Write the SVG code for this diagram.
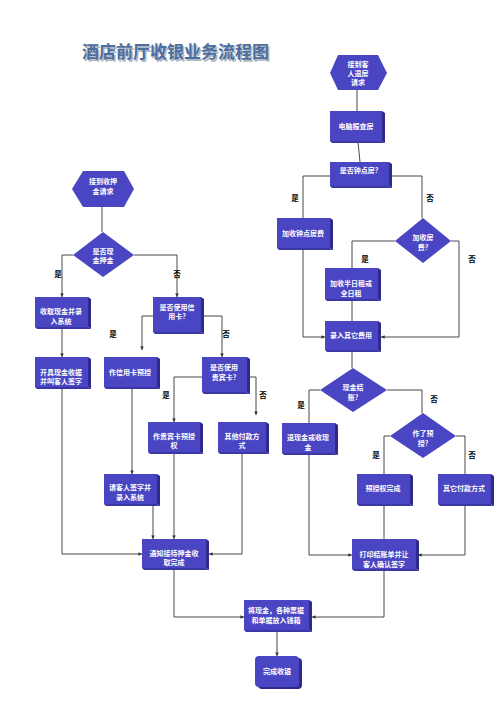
<svg xmlns="http://www.w3.org/2000/svg" width="503" height="711" viewBox="0 0 503 711">
<defs>
<style>
.f{fill:#4a45c2}
.s{fill:#2f2b8c}
.b{fill:#3b37a6}
.t{font-family:"Noto Sans CJK SC","Liberation Sans",sans-serif;font-size:7px;font-weight:bold;fill:#ffffff;text-anchor:middle}
.l{font-family:"Noto Sans CJK SC","Liberation Sans",sans-serif;font-size:7.5px;font-weight:bold;fill:#000000;text-anchor:middle}
.c{fill:none;stroke:#333333;stroke-width:0.9}
.ttl{font-family:"Noto Sans CJK SC","Liberation Serif",sans-serif;font-size:17px;font-weight:bold;fill:#4d6e9e}
.sh{font-family:"Noto Sans CJK SC","Liberation Serif",sans-serif;font-size:17px;font-weight:bold;fill:#b0b8c4}
</style>
<marker id="a" viewBox="0 0 6 6" refX="6" refY="3" markerWidth="4" markerHeight="4" orient="auto">
<path d="M0,0 L6,3 L0,6 z" fill="#333333"/>
</marker>
</defs>
<rect width="503" height="711" fill="#ffffff"/>
<g id="title">
<text class="sh" x="83.5" y="59.5">酒店前厅收银业务流程图</text>
<text class="ttl" x="82" y="58">酒店前厅收银业务流程图</text>
</g>
<g id="connectors">
<path class="c" d="M102,207 V232"/>
<path class="c" d="M73,255 H62 V297" marker-end="url(#a)"/>
<path class="c" d="M134,255 H177 V297" marker-end="url(#a)"/>
<path class="c" d="M62,327 V357" marker-end="url(#a)"/>
<path class="c" d="M62,387 V554 H142" marker-end="url(#a)"/>
<path class="c" d="M153,316 H142 V350" marker-end="url(#a)"/>
<path class="c" d="M201,316 H222 V357" marker-end="url(#a)"/>
<path class="c" d="M132,388 V474" marker-end="url(#a)"/>
<path class="c" d="M202,377 H174 V422" marker-end="url(#a)"/>
<path class="c" d="M247,377 H256 V415" marker-end="url(#a)"/>
<path class="c" d="M153,505 V539" marker-end="url(#a)"/>
<path class="c" d="M174,453 V539" marker-end="url(#a)"/>
<path class="c" d="M242,453 V554 H209" marker-end="url(#a)"/>
<path class="c" d="M174,569 V617 H244" marker-end="url(#a)"/>
<path class="c" d="M357,90 V111"/>
<path class="c" d="M358,142 L360,162"/>
<path class="c" d="M330,176 H303 V218"/>
<path class="c" d="M391,176 H422 V218"/>
<path class="c" d="M303,249 V337 H325" marker-end="url(#a)"/>
<path class="c" d="M395,241 H352 V268"/>
<path class="c" d="M451,241 H459 V337 H381" marker-end="url(#a)"/>
<path class="c" d="M352,301 V321"/>
<path class="c" d="M352,352 V368"/>
<path class="c" d="M320,390 H309 V423"/>
<path class="c" d="M387,390 H422 V413"/>
<path class="c" d="M309,454 V555 H352" marker-end="url(#a)"/>
<path class="c" d="M390,436 H384 V474"/>
<path class="c" d="M456,436 H465 V474"/>
<path class="c" d="M384,506 V539"/>
<path class="c" d="M465,506 V555 H418" marker-end="url(#a)"/>
<path class="c" d="M384,571 V617 H312" marker-end="url(#a)"/>
<path class="c" d="M277,632 V656" marker-end="url(#a)"/>
</g>
<g id="labels">
<text class="l" x="58" y="277">是</text>
<text class="l" x="177" y="277">否</text>
<text class="l" x="113" y="337">是</text>
<text class="l" x="226" y="337">否</text>
<text class="l" x="166" y="398">是</text>
<text class="l" x="263" y="398">否</text>
<text class="l" x="295" y="201">是</text>
<text class="l" x="430" y="201">否</text>
<text class="l" x="365" y="262">是</text>
<text class="l" x="472" y="262">否</text>
<text class="l" x="301" y="408">是</text>
<text class="l" x="434" y="402">否</text>
<text class="l" x="376" y="458">是</text>
<text class="l" x="472" y="458">否</text>
</g>
<g id="n_checkout">
<polygon class="f" points="330,73 338,55 378,55 387,73 378,90 338,90"/>
<text class="t" x="358" y="67">接到客</text>
<text class="t" x="358" y="76">人退房</text>
<text class="t" x="358" y="85">请求</text>
</g>
<g id="n_pc">
<polygon class="s" points="382,111 385,113 385,143 382,141"/>
<polygon class="b" points="330,141 382,141 385,143 332,143"/>
<rect class="f" x="330" y="111" width="52" height="30"/>
<text class="t" x="356" y="129">电脑报查房</text>
</g>
<g id="n_hourly">
<polygon class="s" points="389,162 392,164 392,188 389,186"/>
<polygon class="b" points="330,186 389,186 392,188 332,188"/>
<rect class="f" x="330" y="162" width="59" height="24"/>
<text class="t" x="359" y="173">是否钟点房?</text>
</g>
<g id="n_addhour">
<polygon class="s" points="330,218 333,220 333,250 330,248"/>
<polygon class="b" points="277,248 330,248 333,250 279,250"/>
<rect class="f" x="277" y="218" width="53" height="30"/>
<text class="t" x="303" y="236">加收钟点房费</text>
</g>
<g id="n_dfee">
<polygon class="f" points="423,218 451,241 423,263 395,241"/>
<text class="t" x="423" y="240">加收房</text>
<text class="t" x="423" y="250">费?</text>
</g>
<g id="n_half">
<polygon class="s" points="378,268 381,270 381,301 378,299"/>
<polygon class="b" points="325,299 378,299 381,301 327,301"/>
<rect class="f" x="325" y="268" width="53" height="31"/>
<text class="t" x="351" y="286">加收半日租或</text>
<text class="t" x="351" y="296">全日租</text>
</g>
<g id="n_other">
<polygon class="s" points="378,321 381,323 381,352 378,350"/>
<polygon class="b" points="325,350 378,350 381,352 327,352"/>
<rect class="f" x="325" y="321" width="53" height="29"/>
<text class="t" x="351" y="338">录入其它费用</text>
</g>
<g id="n_cash">
<polygon class="f" points="353,368 387,390 353,412 320,390"/>
<text class="t" x="353" y="390">现金结</text>
<text class="t" x="353" y="400">账?</text>
</g>
<g id="n_refund">
<polygon class="s" points="335,423 338,425 338,455 335,453"/>
<polygon class="b" points="282,453 335,453 338,455 284,455"/>
<rect class="f" x="282" y="423" width="53" height="30"/>
<text class="t" x="308" y="440">退现金或收现</text>
<text class="t" x="308" y="450">金</text>
</g>
<g id="n_preauth">
<polygon class="f" points="423,413 456,436 423,458 390,436"/>
<text class="t" x="423" y="436">作了预</text>
<text class="t" x="423" y="446">授?</text>
</g>
<g id="n_predone">
<polygon class="s" points="410,474 413,476 413,506 410,504"/>
<polygon class="b" points="357,504 410,504 413,506 359,506"/>
<rect class="f" x="357" y="474" width="53" height="30"/>
<text class="t" x="383" y="491">预授权完成</text>
</g>
<g id="n_otherpay2">
<polygon class="s" points="491,474 494,476 494,506 491,504"/>
<polygon class="b" points="438,504 491,504 494,506 440,506"/>
<rect class="f" x="438" y="474" width="53" height="30"/>
<text class="t" x="464" y="491">其它付款方式</text>
</g>
<g id="n_print">
<polygon class="s" points="416,539 419,541 419,571 416,569"/>
<polygon class="b" points="352,569 416,569 419,571 354,571"/>
<rect class="f" x="352" y="539" width="64" height="30"/>
<text class="t" x="384" y="557">打印结账单并让</text>
<text class="t" x="384" y="567">客人确认签字</text>
</g>
<g id="n_deposit">
<polygon class="f" points="72,189 83,171 124,171 134,189 124,207 83,207"/>
<text class="t" x="103" y="184">接到收押</text>
<text class="t" x="103" y="194">金请求</text>
</g>
<g id="n_cashdep">
<polygon class="f" points="103,232 134,255 103,277 73,255"/>
<text class="t" x="103" y="254">是否现</text>
<text class="t" x="103" y="263">金押金</text>
</g>
<g id="n_collect">
<polygon class="s" points="88,297 91,299 91,329 88,327"/>
<polygon class="b" points="35,327 88,327 91,329 37,329"/>
<rect class="f" x="35" y="297" width="53" height="30"/>
<text class="t" x="61" y="314">收取现金并录</text>
<text class="t" x="61" y="324">入系统</text>
</g>
<g id="n_receipt">
<polygon class="s" points="88,357 91,359 91,389 88,387"/>
<polygon class="b" points="35,387 88,387 91,389 37,389"/>
<rect class="f" x="35" y="357" width="53" height="30"/>
<text class="t" x="61" y="375">开具现金收据</text>
<text class="t" x="61" y="384">并叫客人签字</text>
</g>
<g id="n_credit">
<polygon class="s" points="201,297 204,299 204,334 201,332"/>
<polygon class="b" points="153,332 201,332 204,334 155,334"/>
<rect class="f" x="153" y="297" width="48" height="35"/>
<text class="t" x="177" y="310">是否使用信</text>
<text class="t" x="177" y="319">用卡?</text>
</g>
<g id="n_cpre">
<polygon class="s" points="157,357 160,359 160,389 157,387"/>
<polygon class="b" points="104,387 157,387 160,389 106,389"/>
<rect class="f" x="104" y="357" width="53" height="30"/>
<text class="t" x="130" y="375">作信用卡预授</text>
</g>
<g id="n_vip">
<polygon class="s" points="247,357 250,359 250,394 247,392"/>
<polygon class="b" points="202,392 247,392 250,394 204,394"/>
<rect class="f" x="202" y="357" width="45" height="35"/>
<text class="t" x="224" y="370">是否使用</text>
<text class="t" x="224" y="380">贵宾卡?</text>
</g>
<g id="n_vpre">
<polygon class="s" points="200,422 203,424 203,454 200,452"/>
<polygon class="b" points="148,452 200,452 203,454 150,454"/>
<rect class="f" x="148" y="422" width="52" height="30"/>
<text class="t" x="174" y="439">作贵宾卡预授</text>
<text class="t" x="174" y="448">权</text>
</g>
<g id="n_otherpay1">
<polygon class="s" points="266,422 269,424 269,454 266,452"/>
<polygon class="b" points="218,452 266,452 269,454 220,454"/>
<rect class="f" x="218" y="422" width="48" height="30"/>
<text class="t" x="242" y="439">其他付款方</text>
<text class="t" x="242" y="448">式</text>
</g>
<g id="n_sign">
<polygon class="s" points="157,474 160,476 160,506 157,504"/>
<polygon class="b" points="104,504 157,504 160,506 106,506"/>
<rect class="f" x="104" y="474" width="53" height="30"/>
<text class="t" x="130" y="490">请客人签字并</text>
<text class="t" x="130" y="500">录入系统</text>
</g>
<g id="n_notify">
<polygon class="s" points="206,539 209,541 209,570 206,568"/>
<polygon class="b" points="142,568 206,568 209,570 144,570"/>
<rect class="f" x="142" y="539" width="64" height="29"/>
<text class="t" x="174" y="556">通知接待押金收</text>
<text class="t" x="174" y="565">取完成</text>
</g>
<g id="n_cashbox">
<polygon class="s" points="309,600 312,602 312,632 309,630"/>
<polygon class="b" points="244,630 309,630 312,632 246,632"/>
<rect class="f" x="244" y="600" width="65" height="30"/>
<text class="t" x="276" y="613">将现金，各种票据</text>
<text class="t" x="276" y="623">和单据放入钱箱</text>
</g>
<g id="n_done">
<rect class="s" x="258" y="658" width="44" height="31" rx="4"/>
<rect class="f" x="255" y="656" width="44" height="31" rx="4"/>
<text class="t" x="277" y="674">完成收银</text>
</g>
</svg>
